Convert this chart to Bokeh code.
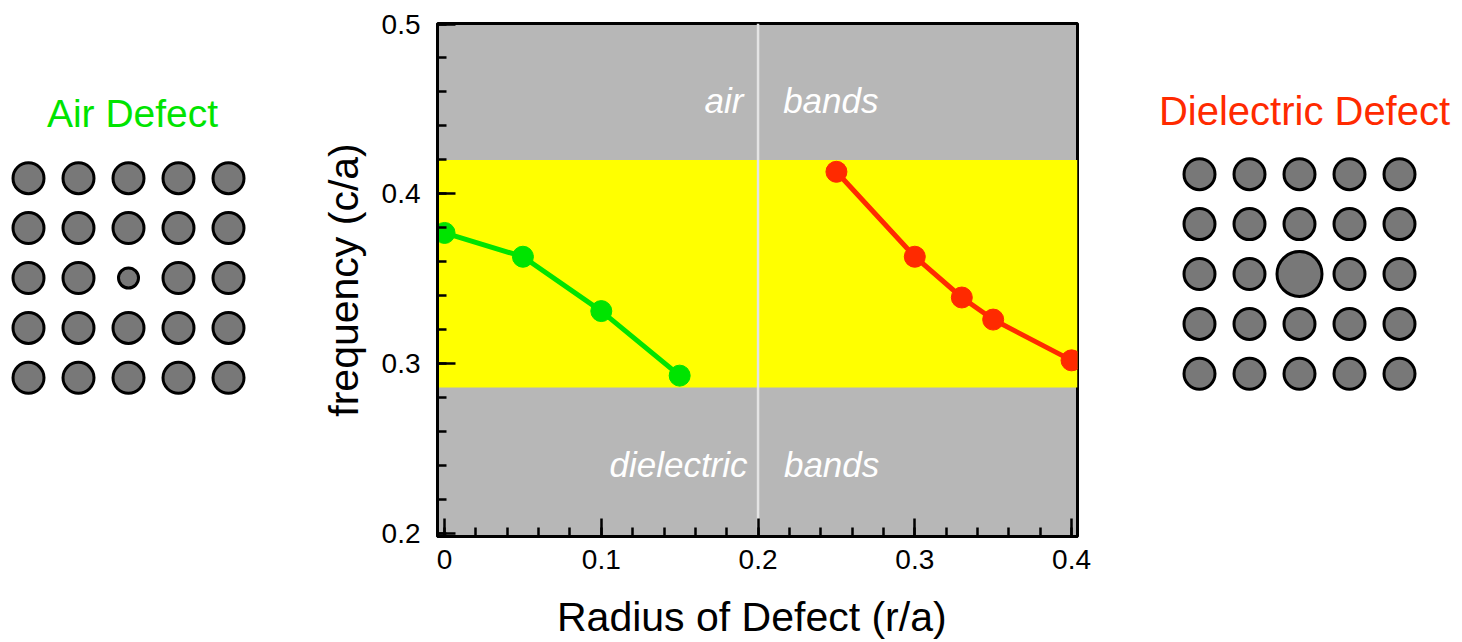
import numpy as np
from bokeh.plotting import figure
from bokeh.layouts import row
from bokeh.models import Range1d, FixedTicker, BoxAnnotation, Span, ColumnDataSource
from bokeh.core.properties import value
from bokeh.embed import file_html
from bokeh.resources import INLINE

# Defect-mode frequency (c/a) versus defect radius (r/a)
air_radius = [0.0, 0.05, 0.10, 0.15]
air_freq = [0.377, 0.363, 0.331, 0.293]
diel_radius = [0.25, 0.30, 0.33, 0.35, 0.40]
diel_freq = [0.413, 0.363, 0.339, 0.326, 0.302]

# Photonic band gap edges and the radius splitting the two regimes
gap_bottom = 0.286
gap_top = 0.420
regime_split = 0.2

x_ticks = [0.0, 0.1, 0.2, 0.3, 0.4]
x_tick_labels = ["0", "0.1", "0.2", "0.3", "0.4"]
y_ticks = [0.2, 0.3, 0.4, 0.5]
y_tick_labels = ["0.2", "0.3", "0.4", "0.5"]

# 5x5 square lattice of rods (radii in units of the lattice constant)
lattice_n = 5
rod_radius = 0.31
air_defect_rod = 0.20
diel_defect_rod = 0.45

GREEN = "#00e400"
RED = "#ff2a00"
FONT = "Liberation Sans"

# shared frame borders so every panel lines up in the row
BORDER_TOP = 23
BORDER_BOTTOM = 105

# ---------------------------------------------------------------- main chart
p = figure(width=810, height=642,
           x_range=Range1d(-0.0045, 0.4038), y_range=Range1d(0.1983, 0.5003),
           output_backend="svg", toolbar_location=None,
           min_border_left=137, min_border_right=33,
           min_border_top=BORDER_TOP, min_border_bottom=BORDER_BOTTOM,
           background_fill_color="#b7b7b7", border_fill_color="white")
p.xgrid.visible = False
p.ygrid.visible = False
p.outline_line_color = "black"
p.outline_line_width = 3

gap = BoxAnnotation(bottom=gap_bottom, top=gap_top, fill_color="#ffff00",
                    fill_alpha=1.0, line_color=None, level="underlay")
p.add_layout(gap)
split = Span(location=regime_split, dimension="height", line_color="#e4e4e4",
             line_width=2.5, level="underlay")
p.add_layout(split)

for xs, ys, col in ((air_radius, air_freq, GREEN), (diel_radius, diel_freq, RED)):
    src = ColumnDataSource(dict(x=xs, y=ys))
    p.line("x", "y", source=src, line_color=col, line_width=5)
    p.scatter("x", "y", source=src, marker="circle", size=21,
              fill_color=col, line_color=col)

# region names inside the band areas
labels = ColumnDataSource(dict(
    x=[0.1907, 0.2160, 0.1933, 0.2165],
    y=[0.4551, 0.4551, 0.2406, 0.2406],
    text=["air", "bands", "dielectric", "bands"],
    align=["right", "left", "right", "left"],
))
p.text("x", "y", text="text", source=labels, text_align="align",
       text_baseline="alphabetic", text_color="white",
       text_font=value(FONT), text_font_style="italic", text_font_size="35px")

p.xaxis.ticker = FixedTicker(ticks=x_ticks,
                             minor_ticks=[round(0.02 * i, 2) for i in range(21)])
p.yaxis.ticker = FixedTicker(ticks=y_ticks,
                             minor_ticks=[round(0.2 + 0.02 * i, 2) for i in range(16)])
p.xaxis.major_label_overrides = dict(zip(x_ticks, x_tick_labels))
p.yaxis.major_label_overrides = dict(zip(y_ticks, y_tick_labels))

p.xaxis.axis_label = "Radius of Defect  (r/a)"
p.yaxis.axis_label = "frequency (c/a)"

for ax in (p.xaxis[0], p.yaxis[0]):
    ax.axis_line_width = 3
    ax.axis_line_color = "black"
    ax.major_tick_in = 18
    ax.major_tick_out = 0
    ax.minor_tick_in = 9
    ax.minor_tick_out = 0
    ax.major_tick_line_width = 2.5
    ax.minor_tick_line_width = 2.5
    ax.major_tick_line_color = "black"
    ax.minor_tick_line_color = "black"
    ax.major_label_text_font = FONT
    ax.major_label_text_font_size = "28px"
    ax.major_label_text_color = "black"
    ax.axis_label_text_font = FONT
    ax.axis_label_text_font_style = "normal"
    ax.axis_label_text_color = "black"

p.xaxis.major_label_standoff = 13
p.yaxis.major_label_standoff = 17
p.xaxis.axis_label_text_font_size = "41px"
p.yaxis.axis_label_text_font_size = "41px"
p.xaxis.axis_label_standoff = 22
p.yaxis.axis_label_standoff = 12


# ---------------------------------------------------------------- lattices
def lattice_figure(width, x_range, y_range, defect_r, title, title_xy, color, title_size):
    f = figure(width=width, height=642, x_range=x_range, y_range=y_range,
               output_backend="svg", toolbar_location=None,
               min_border_left=0, min_border_right=0,
               min_border_top=BORDER_TOP, min_border_bottom=BORDER_BOTTOM,
               border_fill_color="white", background_fill_color="white")
    f.axis.visible = False
    f.grid.visible = False
    f.outline_line_color = None
    gx, gy = np.meshgrid(np.arange(lattice_n), np.arange(lattice_n))
    radii = np.full(gx.shape, rod_radius)
    radii[lattice_n // 2, lattice_n // 2] = defect_r
    f.circle(gx.ravel(), gy.ravel(), radius=radii.ravel(),
             fill_color="#787878", line_color="black", line_width=3)
    f.text([title_xy[0]], [title_xy[1]], text=[title], text_align="center",
           text_baseline="alphabetic", text_color=color,
           text_font=value(FONT), text_font_size=title_size)
    return f


# frame spans 514 px vertically, 50 px per lattice constant
left = lattice_figure(300, Range1d(-0.56, 5.44), Range1d(7.18, -3.10),
                      air_defect_rod, "Air Defect", (2.08, -1.30), GREEN, "39px")
right = lattice_figure(352, Range1d(-1.78, 5.26), Range1d(7.26, -3.02),
                       diel_defect_rod, "Dielectric Defect", (2.1, -1.26), RED, "40px")

layout = row(left, p, right)
open("out.html", "w").write(file_html(layout, INLINE))
